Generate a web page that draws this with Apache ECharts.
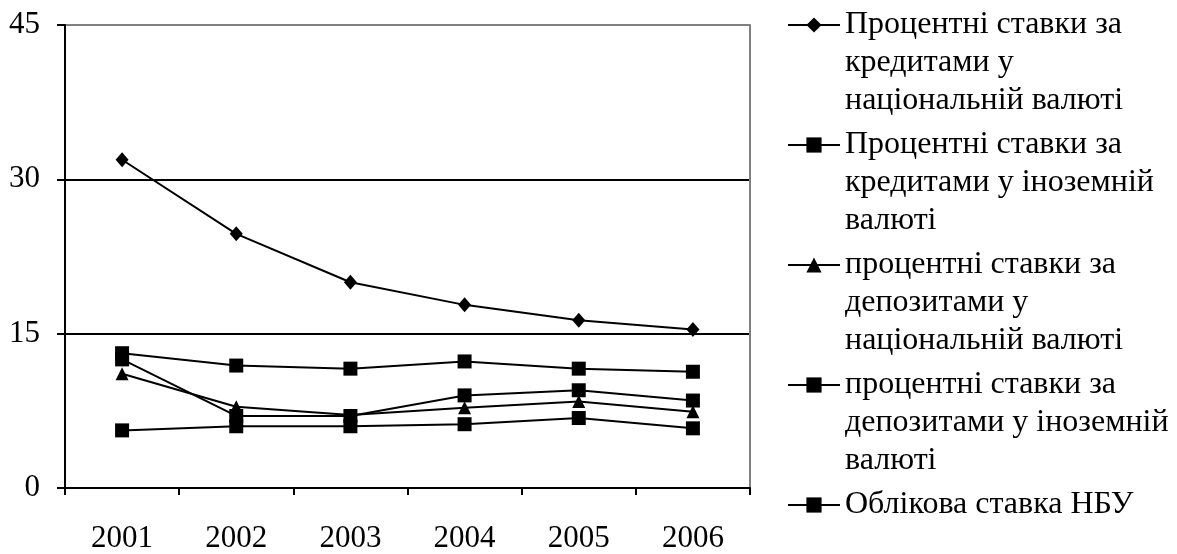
<!DOCTYPE html>
<html>
<head>
<meta charset="utf-8">
<script src="https://cdn.jsdelivr.net/npm/echarts@6/dist/echarts.min.js"></script>
<style>
html,body{margin:0;padding:0;background:#fff;}
#chart{width:1177px;height:554px;}
</style>
</head>
<body>
<div id="chart"></div>
<script>
const years = ['2001', '2002', '2003', '2004', '2005', '2006'];
const yTicks = [0, 15, 30, 45];
const seriesNames = [
  'Процентні ставки за\nкредитами у\nнаціональній валюті',
  'Процентні ставки за\nкредитами у іноземній\nвалюті',
  'процентні ставки за\nдепозитами у\nнаціональній валюті',
  'процентні ставки за\nдепозитами у іноземній\nвалюті',
  'Облікова ставка НБУ'
];
const loansNational = [31.9, 24.7, 20.0, 17.8, 16.3, 15.4];
const loansForeign = [13.1, 11.9, 11.6, 12.3, 11.6, 11.3];
const depositsNational = [11.1, 7.9, 7.1, 7.8, 8.4, 7.4];
const depositsForeign = [5.6, 6.0, 6.0, 6.2, 6.8, 5.8];
const discountRate = [12.5, 7.0, 7.0, 9.0, 9.5, 8.5];

const seriesData = [loansNational, loansForeign, depositsNational, depositsForeign, discountRate];
const symbols = ['diamond', 'rect', 'triangle', 'rect', 'rect'];
const symbolSizes = [[13, 15], 14, 13, 14, 14];

const FONT = '"Liberation Serif", "Times New Roman", serif';
const chart = echarts.init(document.getElementById('chart'), null, {renderer: 'canvas'});

const series = seriesData.map((d, i) => ({
  name: seriesNames[i],
  type: 'line',
  data: d,
  symbol: symbols[i],
  symbolSize: symbolSizes[i],
  showSymbol: true,
  itemStyle: {color: '#000'},
  lineStyle: {color: '#000', width: 2},
  emphasis: {disabled: true},
  animation: false,
  z: 3
}));

chart.setOption({
  backgroundColor: '#fff',
  animation: false,
  textStyle: {fontFamily: FONT},
  grid: {left: 65, right: 427, top: 25, bottom: 62, containLabel: false},
  legend: {
    orient: 'vertical',
    left: 787,
    top: -70,
    height: 1000,
    padding: 0,
    itemWidth: 52,
    itemHeight: 19,
    itemGap: -70,
    data: seriesNames,
    formatter: function (name) {
      const n = name.split('\n').length;
      return '\n\n' + name + '\n'.repeat(Math.max(0, 3 - n));
    },
    textStyle: {fontFamily: FONT, fontSize: 32, color: '#000', lineHeight: 38},
    lineStyle: {width: 2},
    selectedMode: false
  },
  xAxis: {
    type: 'category',
    data: years,
    boundaryGap: true,
    axisLine: {show: true, lineStyle: {color: '#000', width: 2}},
    axisTick: {show: true, inside: false, length: 7, lineStyle: {color: '#000', width: 2}},
    axisLabel: {fontFamily: FONT, fontSize: 31, color: '#000', margin: 35},
    splitLine: {show: false}
  },
  yAxis: [{
    type: 'value',
    min: yTicks[0],
    max: yTicks[yTicks.length - 1],
    interval: yTicks[1] - yTicks[0],
    axisLine: {show: true, lineStyle: {color: '#000', width: 2}},
    axisTick: {show: true, inside: false, length: 8, lineStyle: {color: '#000', width: 2}},
    axisLabel: {fontFamily: FONT, fontSize: 31, color: '#000', margin: 25},
    splitLine: {show: true, lineStyle: {color: ['#000', '#000', '#000', '#808080'], width: 2}}
  }, {
    type: 'value',
    position: 'right',
    min: yTicks[0],
    max: yTicks[yTicks.length - 1],
    interval: yTicks[1] - yTicks[0],
    axisLine: {show: true, lineStyle: {color: '#808080', width: 2}},
    axisTick: {show: false},
    axisLabel: {show: false},
    splitLine: {show: false}
  }],
  series: series
});
</script>
</body>
</html>
